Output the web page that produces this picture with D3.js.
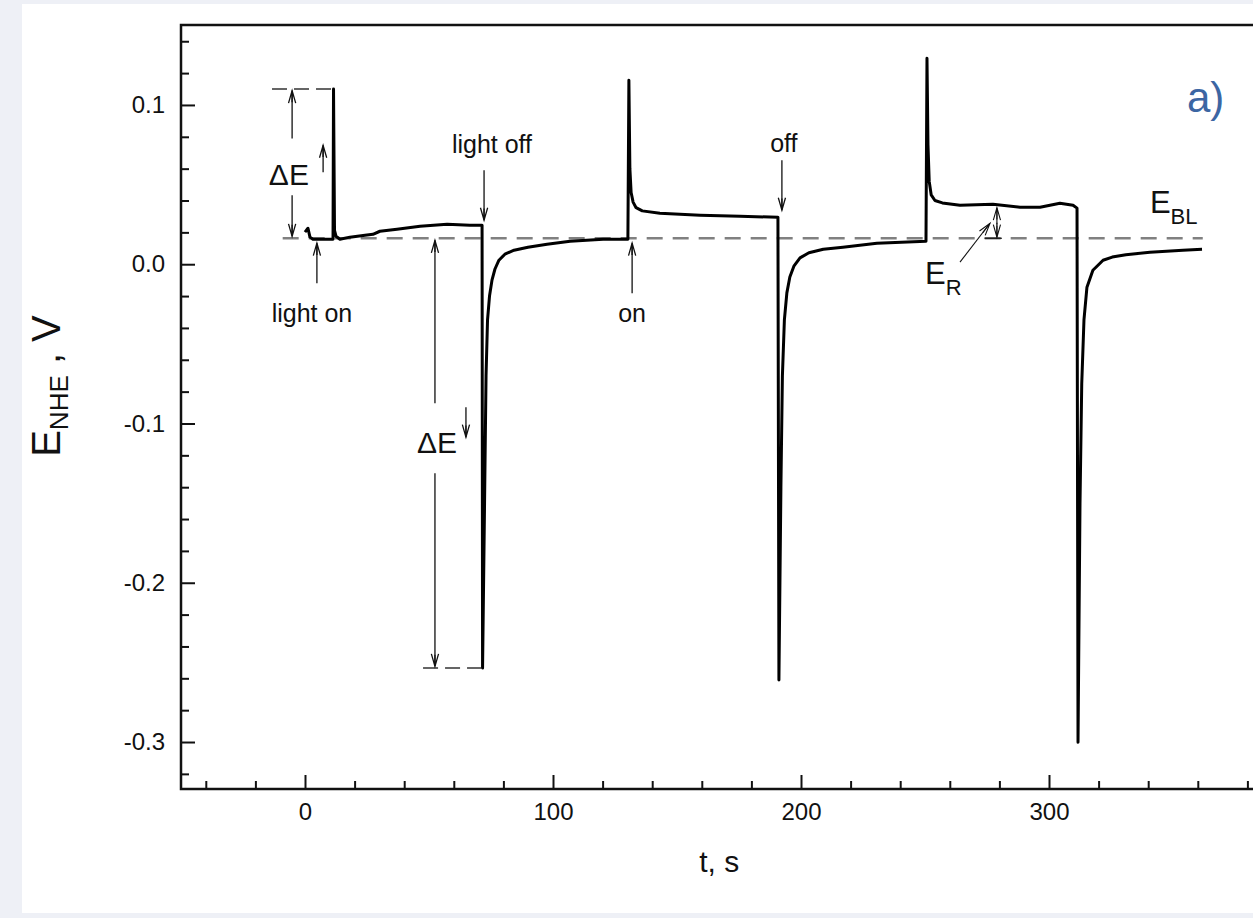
<!DOCTYPE html>
<html>
<head>
  <meta charset="utf-8">
  <title>Photopotential transient</title>
  <script src="https://d3js.org/d3.v7.min.js"></script>
  <style>
    body { margin: 0; background: #eef0f6; }
    svg text { font-family: "Liberation Sans", Arial, sans-serif; fill: #111; }
  </style>
</head>
<body>
  <div id="chart"></div>

  <script>
    // measured trace: time (s) and potential vs NHE (V)
    const times = [
      0, 1.2, 2.0, 3.2, 10.1, 11.3, 11.5, 11.9, 12.5, 14.1, 18.1, 24.2, 27.4, 30.2, 37.1, 46.4, 57.3, 66.5, 71.4,
      71.6, 72.4, 73.0, 73.6, 74.4, 75.4, 76.6, 78.2, 80.6, 84.3, 89.9, 97.6, 106.9, 120.2, 130.2,
      130.6, 131.0, 131.5, 132.3, 133.5, 136.0, 143.1, 159.3, 175.4, 190.7,
      191.1, 191.9, 192.5, 193.3, 194.3, 195.5, 197.2, 199.6, 203.2, 209.0, 216.9, 230.6, 250.4,
      250.8, 251.2, 251.7, 252.5, 254.0, 257.0, 264.1, 277.4, 288.3, 296.4, 304.4, 309.7, 311.3,
      311.7, 312.5, 313.2, 314.1, 315.3, 317.7, 321.8, 325.5, 331.0, 340.7, 354.0, 361.7
    ];
    const potentials = [
      0.0201, 0.0226, 0.0170, 0.0157, 0.0157, 0.0157, 0.1100, 0.0213, 0.0176, 0.0157, 0.0170, 0.0182, 0.0188, 0.0207, 0.0220, 0.0239, 0.0251, 0.0245, 0.0245,
      -0.2536, -0.1500, -0.0700, -0.0350, -0.0200, -0.0100, -0.0030, 0.0025, 0.0063, 0.0088, 0.0107, 0.0126, 0.0144, 0.0157, 0.0157,
      0.1155, 0.0600, 0.0450, 0.0390, 0.0355, 0.0335, 0.0320, 0.0308, 0.0301, 0.0295,
      -0.2611, -0.1400, -0.0700, -0.0350, -0.0180, -0.0080, -0.0010, 0.0040, 0.0072, 0.0094, 0.0107, 0.0132, 0.0144,
      0.1293, 0.0750, 0.0520, 0.0435, 0.0400, 0.0385, 0.0370, 0.0377, 0.0358, 0.0358, 0.0383, 0.0370, 0.0352,
      -0.3001, -0.1500, -0.0750, -0.0350, -0.0144, -0.0038, 0.0025, 0.0045, 0.0060, 0.0075, 0.0088, 0.0094
    ];

    // axis ticks
    const xMajorTicks = [0, 100, 200, 300];
    const xMinorTicks = [-40, -20, 20, 40, 60, 80, 120, 140, 160, 180, 220, 240, 260, 280, 320, 340, 360, 380];
    const yMajorTicks = [0.1, 0.0, -0.1, -0.2, -0.3];
    const yMinorTicks = [0.14, 0.12, 0.08, 0.06, 0.04, 0.02, -0.02, -0.04, -0.06, -0.08, -0.12, -0.14, -0.16, -0.18, -0.22, -0.24, -0.26, -0.28, -0.32];

    // annotation levels
    const baseline = 0.0163;
    const riseTop = 0.110;
    const dropBottom = -0.2536;

    const width = 1253, height = 918;
    const svg = d3.select('#chart').append('svg')
      .attr('width', width)
      .attr('height', height);

    // slide background + white panel
    svg.append('rect').attr('width', width).attr('height', height).attr('fill', '#eef0f6');
    svg.append('rect').attr('x', 22).attr('y', 4).attr('width', width - 22).attr('height', 909).attr('fill', '#fff');

    const x = d3.scaleLinear().domain([-50, 400]).range([181, 1297]);
    const y = d3.scaleLinear().domain([-0.3295, 0.1502]).range([789, 25]);

    // ticks (inward)
    const tickG = svg.append('g');
    tickG.append('g')
      .attr('transform', 'translate(0,789)')
      .call(d3.axisBottom(x).tickValues(xMinorTicks).tickSize(-8).tickFormat(''))
      .call(g => g.select('.domain').remove());
    tickG.append('g')
      .attr('transform', 'translate(0,789)')
      .call(d3.axisBottom(x).tickValues(xMajorTicks).tickSize(-14).tickFormat(d => String(d)))
      .call(g => g.select('.domain').remove())
      .call(g => g.selectAll('text').attr('y', 14).attr('dy', '0.71em'));
    tickG.append('g')
      .attr('transform', 'translate(181,0)')
      .call(d3.axisLeft(y).tickValues(yMinorTicks).tickSize(-8).tickFormat(''))
      .call(g => g.select('.domain').remove());
    tickG.append('g')
      .attr('transform', 'translate(181,0)')
      .call(d3.axisLeft(y).tickValues(yMajorTicks).tickSize(-14).tickFormat(d => d.toFixed(1)))
      .call(g => g.select('.domain').remove())
      .call(g => g.selectAll('text').attr('x', -16));
    tickG.selectAll('line').attr('stroke', '#111').attr('stroke-width', 2);
    tickG.selectAll('text')
      .attr('font-size', 24)
      .attr('font-family', '"Liberation Sans", Arial, sans-serif')
      .attr('fill', '#111');

    // frame
    svg.append('rect')
      .attr('x', x(-50)).attr('y', y(0.1502))
      .attr('width', x(400) - x(-50)).attr('height', y(-0.3295) - y(0.1502))
      .attr('fill', 'none').attr('stroke', '#111').attr('stroke-width', 2.5);

    // baseline E_BL
    svg.append('line')
      .attr('x1', x(-9)).attr('x2', x(362))
      .attr('y1', y(baseline)).attr('y2', y(baseline))
      .attr('stroke', '#808080').attr('stroke-width', 2.5)
      .attr('stroke-dasharray', '16,10');

    // ΔE guide dashes
    svg.append('line')
      .attr('x1', x(-13.3)).attr('x2', x(12.5))
      .attr('y1', y(riseTop)).attr('y2', y(riseTop))
      .attr('stroke', '#333').attr('stroke-width', 1.5).attr('stroke-dasharray', '15,7');
    svg.append('line')
      .attr('x1', x(47.6)).attr('x2', x(71))
      .attr('y1', y(dropBottom)).attr('y2', y(dropBottom))
      .attr('stroke', '#333').attr('stroke-width', 1.5).attr('stroke-dasharray', '15,7');

    // trace
    const points = times.map((t, i) => [t, potentials[i]]);
    svg.append('path')
      .datum(points)
      .attr('fill', 'none')
      .attr('stroke', '#000')
      .attr('stroke-width', 3)
      .attr('stroke-linejoin', 'round')
      .attr('d', d3.line().x(d => x(d[0])).y(d => y(d[1])));

    // arrow from (t1,e1) to tip (t2,e2)
    function arrow(t1, e1, t2, e2, w) {
      const x1 = x(t1), y1 = y(e1), x2 = x(t2), y2 = y(e2);
      const a = Math.atan2(y2 - y1, x2 - x1);
      const len = 13, spread = 0.28;
      const g = svg.append('g').attr('stroke', '#111').attr('stroke-width', w || 1.3).attr('fill', 'none');
      g.append('line').attr('x1', x1).attr('y1', y1).attr('x2', x2).attr('y2', y2);
      g.append('path').attr('d',
        `M${x2 - len * Math.cos(a - spread)},${y2 - len * Math.sin(a - spread)}` +
        `L${x2},${y2}` +
        `L${x2 - len * Math.cos(a + spread)},${y2 - len * Math.sin(a + spread)}` +
        `M${x2 - len * 0.9 * Math.cos(a)},${y2 - len * 0.9 * Math.sin(a)}L${x2},${y2}`);
    }

    // ΔE (rise)
    arrow(-5.2, 0.079, -5.2, 0.109);
    arrow(-5.2, 0.0433, -5.2, 0.0175);
    arrow(7.3, 0.0578, 7.3, 0.0747);
    svg.append('text').attr('x', x(-6.5)).attr('y', y(0.0496))
      .attr('text-anchor', 'middle').attr('font-size', 30).text('ΔE');

    // light on / light off
    arrow(4.8, -0.0119, 4.8, 0.0132);
    svg.append('text').attr('x', x(2.8)).attr('y', y(-0.0364))
      .attr('text-anchor', 'middle').attr('font-size', 25).text('light on');
    arrow(72.2, 0.059, 72.2, 0.0276);
    svg.append('text').attr('x', x(75.4)).attr('y', y(0.0697))
      .attr('text-anchor', 'middle').attr('font-size', 25).text('light off');

    // ΔE (drop)
    arrow(52.4, -0.0873, 52.4, 0.0150);
    arrow(52.4, -0.1312, 52.4, -0.2525);
    arrow(64.9, -0.0898, 64.9, -0.1086);
    svg.append('text').attr('x', x(53.2)).attr('y', y(-0.1186))
      .attr('text-anchor', 'middle').attr('font-size', 30).text('ΔE');

    // on / off
    arrow(131.9, -0.0182, 131.9, 0.0132);
    svg.append('text').attr('x', x(131.9)).attr('y', y(-0.0364))
      .attr('text-anchor', 'middle').attr('font-size', 25).text('on');
    arrow(192.3, 0.0653, 192.3, 0.0339);
    svg.append('text').attr('x', x(193.1)).attr('y', y(0.0703))
      .attr('text-anchor', 'middle').attr('font-size', 25).text('off');

    // E_R
    arrow(264.1, 0.0013, 276.2, 0.0257, 1.1);
    arrow(279, 0.0250, 279, 0.0355, 1.1);
    arrow(279, 0.0260, 279, 0.0170, 1.1);
    svg.append('line')
      .attr('x1', x(274)).attr('x2', x(281))
      .attr('y1', y(baseline)).attr('y2', y(baseline))
      .attr('stroke', '#111').attr('stroke-width', 1.2);
    const er = svg.append('text').attr('x', x(250)).attr('y', y(-0.0126))
      .attr('font-size', 31);
    er.append('tspan').text('E');
    er.append('tspan').attr('font-size', 22).attr('dy', 11).text('R');

    // E_BL
    const ebl = svg.append('text').attr('x', x(340.7)).attr('y', y(0.032))
      .attr('font-size', 31);
    ebl.append('tspan').text('E');
    ebl.append('tspan').attr('font-size', 22).attr('dy', 11).text('BL');

    // axis titles
    svg.append('text')
      .attr('x', x(167))
      .attr('y', 872)
      .attr('text-anchor', 'middle')
      .attr('font-size', 30)
      .text('t, s');

    const yt = svg.append('text')
      .attr('transform', 'translate(60,386) rotate(-90)')
      .attr('text-anchor', 'middle')
      .attr('font-size', 40);
    yt.append('tspan').text('E');
    yt.append('tspan').attr('font-size', 26).attr('dy', 8).text('NHE');
    yt.append('tspan').attr('dy', -8).text(' , V');

    // panel label
    svg.append('text')
      .attr('x', 1187).attr('y', 112)
      .attr('font-family', '"Open Sans", "Noto Sans", sans-serif')
      .attr('font-size', 42)
      .style('fill', '#3c66a3')
      .text('a)');
  </script>
</body>
</html>
